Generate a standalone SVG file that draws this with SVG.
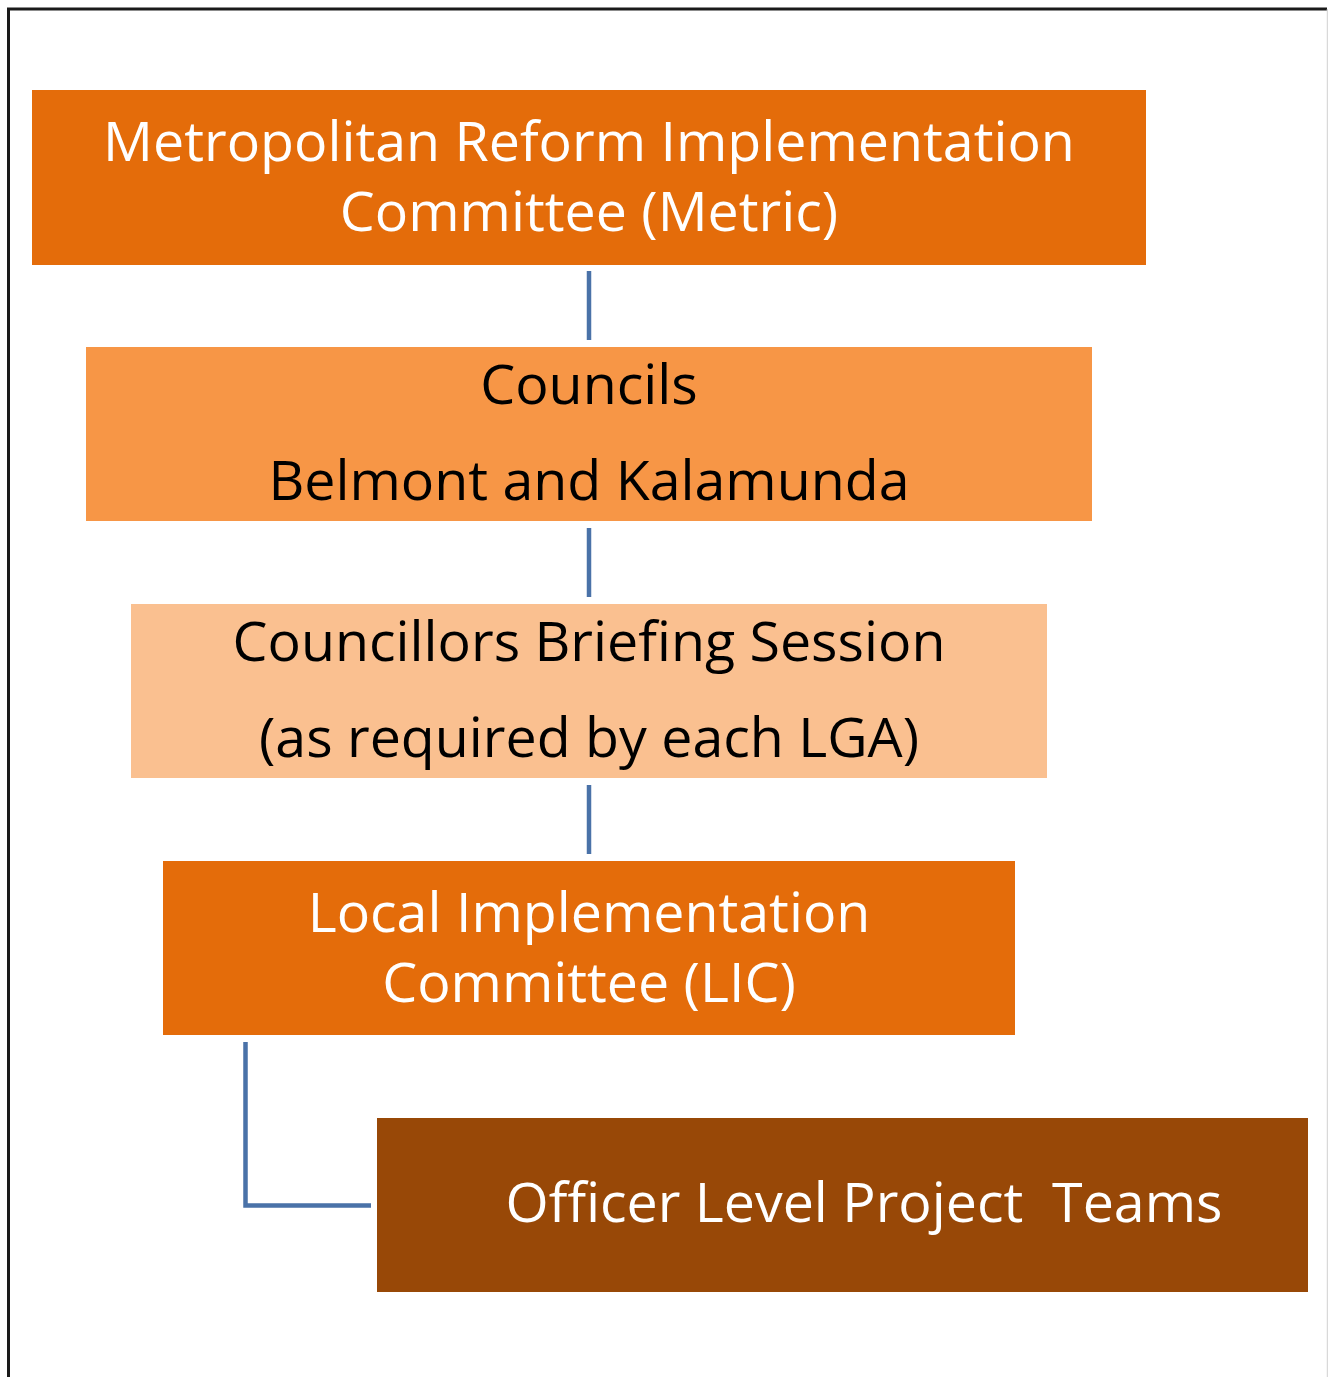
<svg xmlns="http://www.w3.org/2000/svg" width="1328" height="1377" viewBox="0 0 1328 1377">
  <style>
    .lbl { font-family: "Open Sans", "Liberation Sans", sans-serif; font-size: 55.5px; text-anchor: middle; }
    .light { fill: #ffffff; }
    .dark { fill: #000000; }
    .link { stroke: #4A72A8; stroke-width: 4.5; fill: none; }
  </style>
  <rect x="0" y="0" width="1328" height="1377" fill="#ffffff"/>
  <!-- frame -->
  <path d="M8.5,1377 V9 H1327" stroke="#1a1a1a" stroke-width="3" fill="none"/>
  <line x1="1327.5" y1="9" x2="1327.5" y2="1377" stroke="#d9d9d9" stroke-width="1.5"/>

  <g id="connectors">
    <line class="link" x1="589" y1="271" x2="589" y2="340"/>
    <line class="link" x1="589" y1="528" x2="589" y2="597"/>
    <line class="link" x1="589" y1="785" x2="589" y2="854"/>
    <path class="link" d="M245.5,1042 V1205.5 H371"/>
  </g>

  <g id="metric">
    <rect x="32" y="90" width="1114" height="175" fill="#E46C0A"/>
    <text class="lbl light" x="589" y="161">Metropolitan Reform Implementation</text>
    <text class="lbl light" x="589" y="231">Committee (Metric)</text>
  </g>

  <g id="councils">
    <rect x="86" y="347" width="1006" height="174" fill="#F79646"/>
    <text class="lbl dark" x="589" y="404">Councils</text>
    <text class="lbl dark" x="589" y="500">Belmont and Kalamunda</text>
  </g>

  <g id="briefing">
    <rect x="131" y="604" width="916" height="174" fill="#FAC090"/>
    <text class="lbl dark" x="589" y="661">Councillors Briefing Session</text>
    <text class="lbl dark" x="589" y="757">(as required by each LGA)</text>
  </g>

  <g id="lic">
    <rect x="163" y="861" width="852" height="174" fill="#E46C0A"/>
    <text class="lbl light" x="589" y="932">Local Implementation</text>
    <text class="lbl light" x="589" y="1002">Committee (LIC)</text>
  </g>

  <g id="officers">
    <rect x="377" y="1118" width="931" height="174" fill="#984807"/>
    <text class="lbl light" x="864" y="1222" xml:space="preserve">Officer Level Project  Teams</text>
  </g>
</svg>
